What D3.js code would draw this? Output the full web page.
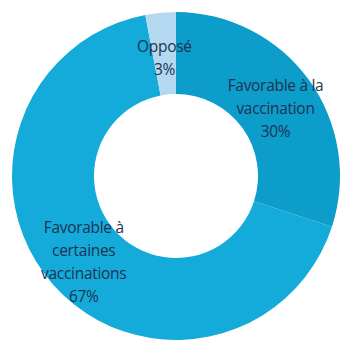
<!DOCTYPE html>
<html>
<head>
<meta charset="utf-8">
<script src="https://cdn.jsdelivr.net/npm/d3@7"></script>
<style>
  html, body { margin: 0; padding: 0; background: #fff; }
  svg { display: block; }
</style>
</head>
<body>
<div id="chart"></div>
<script>
// data
var categories = ["Favorable à la vaccination", "Favorable à certaines vaccinations", "Opposé"];
var labelLines = [["Favorable à la", "vaccination"], ["Favorable à", "certaines", "vaccinations"], ["Opposé"]];
var values = [30, 67, 3];
var colors = ["#0d9dca", "#14abdb", "#b3d8f0"];

var width = 343, height = 342,
    cx = 176, cy = 176,
    outer = 164, inner = 82;

var svg = d3.select("#chart").append("svg")
    .attr("width", width)
    .attr("height", height);

var g = svg.append("g").attr("transform", `translate(${cx}, ${cy})`);

var pie = d3.pie().sort(null).value(d => d);
var arc = d3.arc().innerRadius(inner).outerRadius(outer);
var arcs = pie(values);

g.selectAll("path.slice")
    .data(arcs).enter()
    .append("path")
    .attr("class", "slice")
    .attr("d", arc)
    .attr("fill", (d, i) => colors[i]);

// etiquetas
var lineH = 23;
g.selectAll("text.label")
    .data(arcs).enter()
    .append("text")
    .attr("class", "label")
    .attr("text-anchor", "middle")
    .attr("font-family", "'Open Sans', sans-serif")
    .attr("font-size", 15.5)
    .attr("letter-spacing", -0.3)
    .attr("fill", "#1d3350")
    .each(function (d, i) {
        var lines = labelLines[i].concat([values[i] + "%"]);
        var c = arc.centroid(d);
        var y0 = c[1] - (lines.length - 1) * lineH / 2 + 10;
        var t = d3.select(this);
        lines.forEach(function (l, k) {
            t.append("tspan")
                .attr("x", c[0])
                .attr("y", y0 + k * lineH)
                .text(l);
        });
    });
</script>
</body>
</html>
